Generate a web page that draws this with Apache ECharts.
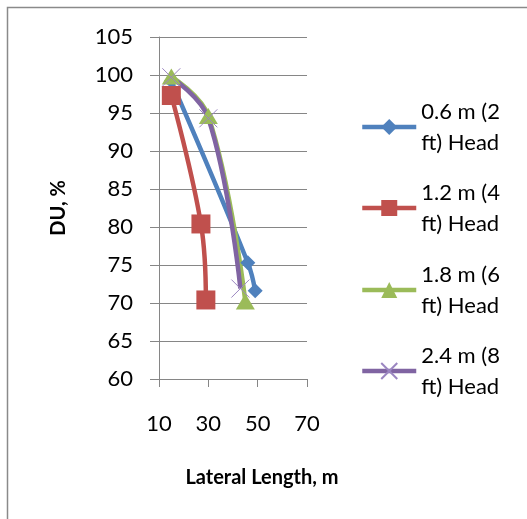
<!DOCTYPE html>
<html>
<head>
<meta charset="utf-8">
<script src="https://cdn.jsdelivr.net/npm/echarts@6/dist/echarts.min.js"></script>
<style>
  html, body { margin: 0; padding: 0; background: #ffffff; }
  #chart { width: 527px; height: 519px; }
</style>
</head>
<body>
<div id="chart"></div>
<script>
// Distribution uniformity vs. lateral length for four pressure heads
const seriesNames = [
  '0.6 m (2\nft) Head',
  '1.2 m (4\nft) Head',
  '1.8 m (6\nft) Head',
  '2.4 m (8\nft) Head'
];
// lateral length (m) for each series
const lengths06 = [15, 46, 49];
const lengths12 = [15, 27, 29];
const lengths18 = [15, 30, 45];
const lengths24 = [15, 30, 43];
// DU (%) for each series
const du06 = [99.2, 75.3, 71.6];
const du12 = [97.3, 80.4, 70.4];
const du18 = [99.8, 94.6, 70.2];
const du24 = [99.7, 94.3, 71.9];

const xTicks = [10, 30, 50, 70];
const yTicks = [60, 65, 70, 75, 80, 85, 90, 95, 100, 105];

const colors = ['#4F81BD', '#C0504D', '#9BBB59', '#8064A2'];
const FONT = 'Lato, "Liberation Sans", sans-serif';
const GRID_GRAY = '#868686';

function pairs(xs, ys) { return xs.map((x, i) => [x, ys[i]]); }

const xSymbol = 'path://M0,0L10,10M10,0L0,10';

const chart = echarts.init(document.getElementById('chart'), null, { renderer: 'canvas' });

const legendIconCenters = [127, 208, 290, 371];
const legends = seriesNames.map((name, i) => ({
  data: [name],
  orient: 'vertical',
  left: 360,
  top: legendIconCenters[i] - 46.5,
  padding: 0,
  itemWidth: 54,
  itemHeight: 20,
  selectedMode: false,
  lineStyle: { width: 4.5 },
  textStyle: {
    fontFamily: FONT,
    fontSize: 22,
    lineHeight: 31,
    color: '#000',
    padding: [31, 0, 0, 0]
  }
}));

const symbols = ['diamond', 'rect', 'triangle', xSymbol];
const sizes = [15, 19, [19, 16], 18];
const dataSets = [
  pairs(lengths06, du06),
  pairs(lengths12, du12),
  pairs(lengths18, du18),
  pairs(lengths24, du24)
];

const series = seriesNames.map((name, i) => ({
  name: name,
  type: 'line',
  data: dataSets[i],
  smooth: 0.4,
  symbol: symbols[i],
  symbolSize: sizes[i],
  showAllSymbol: true,
  color: colors[i],
  lineStyle: { width: 4.5, color: colors[i] },
  itemStyle: i === 3
    ? { color: '#9B86C1', borderColor: '#9B86C1', borderWidth: 1 }
    : { color: colors[i] },
  emphasis: { disabled: true },
  animation: false
}));

chart.setOption({
  animation: false,
  backgroundColor: '#ffffff',
  grid: { left: 159, right: 220, top: 37, bottom: 140, containLabel: false },
  xAxis: {
    type: 'value',
    min: xTicks[0],
    max: xTicks[xTicks.length - 1],
    interval: xTicks[1] - xTicks[0],
    name: 'Lateral Length, m',
    nameLocation: 'middle',
    nameGap: 89,
    nameTextStyle: {
      fontFamily: FONT, fontSize: 20, fontWeight: 'bold', color: '#000',
      padding: [0, 0, 0, 58]
    },
    axisLine: { show: true, lineStyle: { color: GRID_GRAY, width: 1 } },
    axisTick: { show: true, length: 8, lineStyle: { color: GRID_GRAY } },
    splitLine: { show: false },
    axisLabel: { fontFamily: FONT, fontSize: 22, color: '#000', margin: 34 }
  },
  yAxis: {
    type: 'value',
    min: yTicks[0],
    max: yTicks[yTicks.length - 1],
    interval: yTicks[1] - yTicks[0],
    name: 'DU, %',
    nameLocation: 'middle',
    nameGap: 90,
    nameRotate: 90,
    nameTextStyle: { fontFamily: FONT, fontSize: 20, fontWeight: 'bold', color: '#000' },
    axisLine: { show: true, lineStyle: { color: GRID_GRAY, width: 1 } },
    axisTick: { show: true, length: 9, lineStyle: { color: GRID_GRAY } },
    splitLine: { show: true, lineStyle: { color: GRID_GRAY, width: 1 } },
    axisLabel: { fontFamily: FONT, fontSize: 22, color: '#000', margin: 26 }
  },
  legend: legends,
  graphic: [{
    type: 'rect',
    shape: { x: 7.5, y: 7.5, width: 700, height: 700 },
    style: { fill: 'none', stroke: '#8a8a8a', lineWidth: 1.5 },
    silent: true
  }],
  series: series
});
</script>
</body>
</html>
